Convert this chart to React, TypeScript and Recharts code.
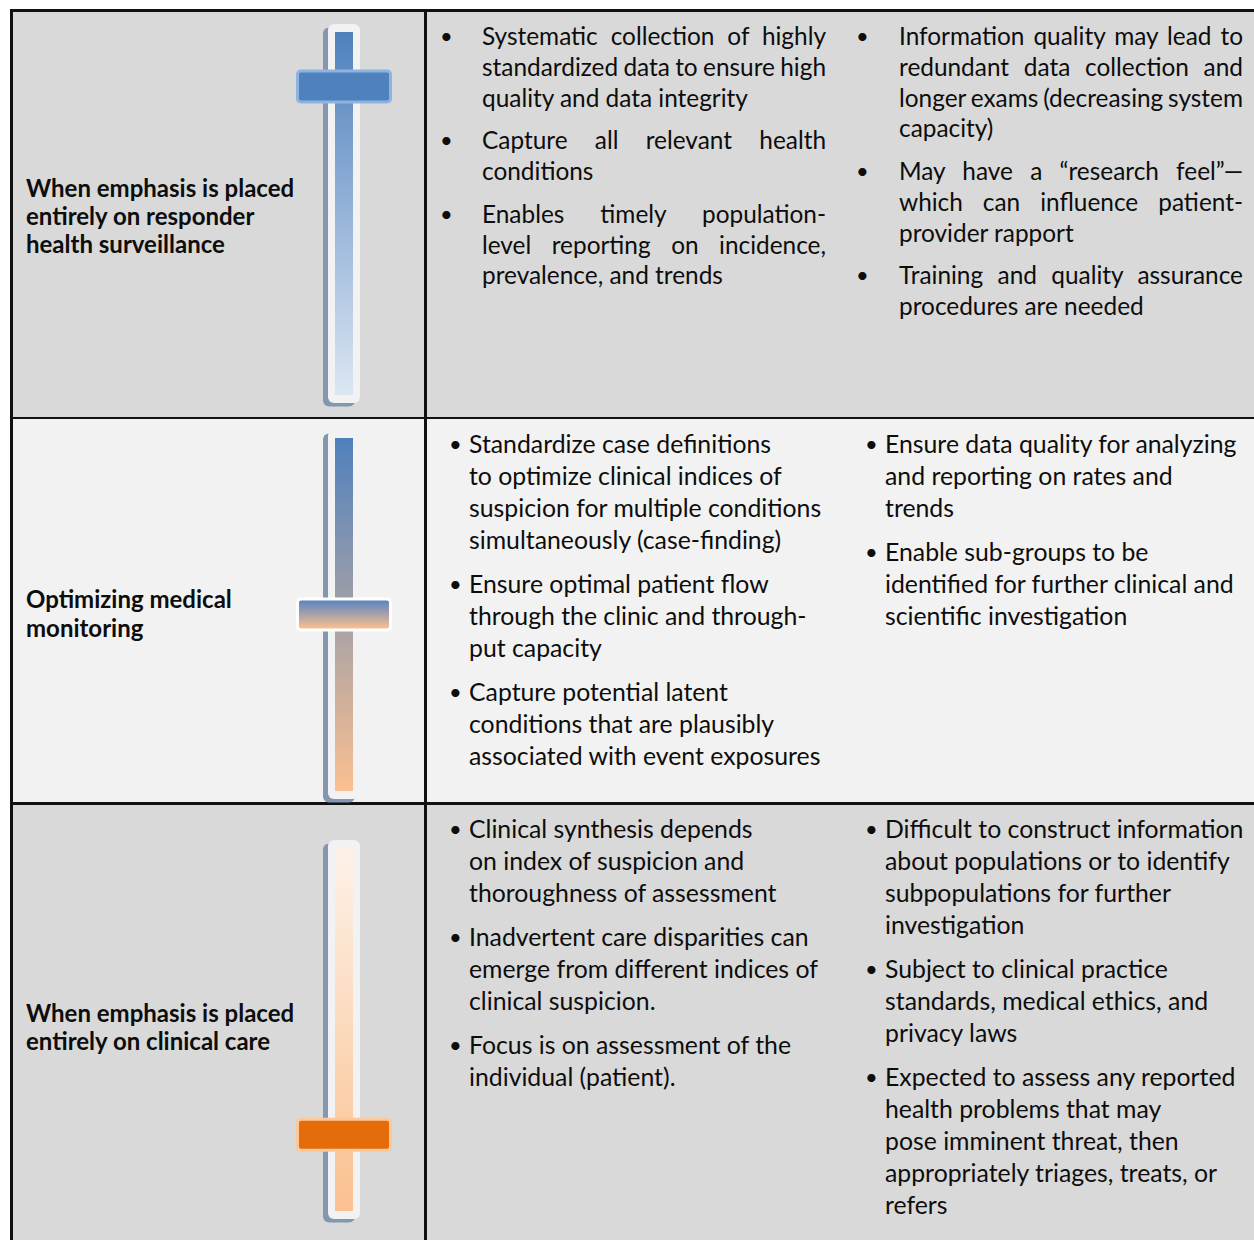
import React from "react";
import { ComposedChart, Bar, Scatter, XAxis, YAxis } from "recharts";

// slider handle position on each track (0 = bottom, 100 = top)
const sliderPositions = [85, 50, 21];

const rowLabels = [
    ["When emphasis is placed", "entirely on responder", "health surveillance"],
    ["Optimizing medical", "monitoring"],
    ["When emphasis is placed", "entirely on clinical care"],
];

// benefits column, one array of lines per bullet
const benefits = [
    [
        ["Systematic collection of highly", "standardized data to ensure high", "quality and data integrity"],
        ["Capture all relevant health", "conditions"],
        ["Enables timely population-", "level reporting on incidence,", "prevalence, and trends"],
    ],
    [
        ["Standardize case definitions", "to optimize clinical indices of", "suspicion for multiple conditions", "simultaneously (case-finding)"],
        ["Ensure optimal patient flow", "through the clinic and through-", "put capacity"],
        ["Capture potential latent", "conditions that are plausibly", "associated with event exposures"],
    ],
    [
        ["Clinical synthesis depends", "on index of suspicion and", "thoroughness of assessment"],
        ["Inadvertent care disparities can", "emerge from different indices of", "clinical suspicion."],
        ["Focus is on assessment of the", "individual (patient)."],
    ],
];

// trade-offs column
const tradeoffs = [
    [
        ["Information quality may lead to", "redundant data collection and", "longer exams (decreasing system", "capacity)"],
        ["May have a \u201cresearch feel\u201d\u2014", "which can influence patient-", "provider rapport"],
        ["Training and quality assurance", "procedures are needed"],
    ],
    [
        ["Ensure data quality for analyzing", "and reporting on rates and", "trends"],
        ["Enable sub-groups to be", "identified for further clinical and", "scientific investigation"],
    ],
    [
        ["Difficult to construct information", "about populations or to identify", "subpopulations for further", "investigation"],
        ["Subject to clinical practice", "standards, medical ethics, and", "privacy laws"],
        ["Expected to assess any reported", "health problems that may", "pose imminent threat, then", "appropriately triages, treats, or", "refers"],
    ],
];

const FONT = "Lato, 'Open Sans', sans-serif";

const rows = [
    { top: 10, bottom: 417, bg: "#d9d9d9" },
    { top: 417, bottom: 802, bg: "#f2f2f2" },
    { top: 802, bottom: 1240, bg: "#d9d9d9" },
];

const sliderThemes = [
    {
        track: ["#4f81bd", "#dce6f2"],
        handleFill: ["#4f81bd", "#4f81bd"],
        handleBorder: "#8db3e2",
        top: 22,
        height: 387,
    },
    {
        track: ["#4f81bd", "#fac090"],
        handleFill: ["#5a84c0", "#fac090"],
        handleBorder: "#ffffff",
        top: 428,
        height: 377,
    },
    {
        track: ["#fdf2e8", "#fac090"],
        handleFill: ["#e46c0a", "#e46c0a"],
        handleBorder: "#fbc89c",
        top: 838,
        height: 387,
    },
];

const textBlocks = [
    { col2Top: 21, col3Top: 21, lh: 30.75 },
    { col2Top: 428, col3Top: 428, lh: 32 },
    { col2Top: 813, col3Top: 813, lh: 32 },
];

function Slider({ idx }: { idx: number }) {
    const theme = sliderThemes[idx];
    const data = [{ name: "slider", track: 100, pos: sliderPositions[idx] }];
    const trackId = `track${idx}`;
    const handleId = `handle${idx}`;

    const trackShape = (props: any) => {
        const { x, y, width, height } = props;
        const ox = x - 7;
        const oy = y - 8;
        const ow = width + 14;
        const oh = height + 16;
        return (
            <g>
                <rect x={ox - 5} y={oy + 3.5} width={ow} height={oh} rx={6} fill="#8496b0" />
                <rect x={ox} y={oy} width={ow} height={oh} rx={6} fill="#f2f2f2" />
                <rect x={x} y={y} width={width} height={height} fill={`url(#${trackId})`} />
            </g>
        );
    };

    const handleShape = (props: any) => {
        const { cx, cy } = props;
        return (
            <g>
                <rect x={cx - 48} y={cy - 17} width={96} height={34} rx={5} fill={theme.handleBorder} />
                <rect x={cx - 45} y={cy - 14} width={90} height={28} rx={2} fill={`url(#${handleId})`} />
            </g>
        );
    };

    return (
        <div style={{ position: "absolute", left: 294, top: theme.top }}>
            <ComposedChart
                width={100}
                height={theme.height}
                data={data}
                margin={{ top: 10, right: 0, bottom: 14, left: 0 }}
            >
                <defs>
                    <linearGradient id={trackId} x1="0" y1="0" x2="0" y2="1">
                        <stop offset="0%" stopColor={theme.track[0]} />
                        <stop offset="100%" stopColor={theme.track[1]} />
                    </linearGradient>
                    <linearGradient id={handleId} x1="0" y1="0" x2="0" y2="1">
                        <stop offset="0%" stopColor={theme.handleFill[0]} />
                        <stop offset="100%" stopColor={theme.handleFill[1]} />
                    </linearGradient>
                </defs>
                <XAxis dataKey="name" type="category" hide />
                <YAxis domain={[0, 100]} hide />
                <Bar dataKey="track" barSize={18} shape={trackShape} isAnimationActive={false} />
                <Scatter dataKey="pos" shape={handleShape} isAnimationActive={false} />
            </ComposedChart>
        </div>
    );
}

function BulletList({
    items,
    left,
    top,
    lh,
    bulletX,
    justify,
    width,
}: {
    items: string[][];
    left: number;
    top: number;
    lh: number;
    bulletX: number;
    justify: boolean;
    width: number;
}) {
    return (
        <div style={{ position: "absolute", left, top, width }}>
            {items.map((lines, i) => (
                <div key={i} style={{ position: "relative", marginBottom: 12 }}>
                    <span
                        style={{
                            position: "absolute",
                            left: bulletX - left - 6,
                            top: 0,
                            lineHeight: `${lh}px`,
                            fontSize: 22,
                        }}
                    >
                        {"\u2022"}
                    </span>
                    {lines.map((line, j) => {
                        const spread = justify && j < lines.length - 1;
                        return (
                            <div
                                key={j}
                                style={{
                                    height: lh,
                                    lineHeight: `${lh}px`,
                                    whiteSpace: "nowrap",
                                    wordSpacing: spread ? -2 : 0,
                                    textAlign: spread ? "justify" : "left",
                                    textAlignLast: spread ? "justify" : "left",
                                }}
                            >
                                {line}
                            </div>
                        );
                    })}
                </div>
            ))}
        </div>
    );
}

export default function App() {
    const labelTops = [173.75, 583.5, 998.75];
    return (
        <div
            style={{
                position: "absolute",
                left: 0,
                top: 0,
                width: 1254,
                height: 1240,
                overflow: "hidden",
                background: "#ffffff",
                fontFamily: FONT,
                color: "#0d0d0d",
            }}
        >
            {rows.map((r, i) => (
                <div
                    key={i}
                    style={{
                        position: "absolute",
                        left: 10,
                        top: r.top,
                        width: 1244,
                        height: r.bottom - r.top,
                        background: r.bg,
                    }}
                />
            ))}
            {/* grid lines */}
            <div style={{ position: "absolute", left: 10, top: 9, width: 1244, height: 2.5, background: "#111" }} />
            <div style={{ position: "absolute", left: 10, top: 416.5, width: 1244, height: 2.5, background: "#111" }} />
            <div style={{ position: "absolute", left: 10, top: 802, width: 1244, height: 2.5, background: "#111" }} />
            <div style={{ position: "absolute", left: 10, top: 9, width: 2.5, height: 1231, background: "#111" }} />
            <div style={{ position: "absolute", left: 424, top: 9, width: 2.5, height: 1231, background: "#111" }} />

            {rowLabels.map((lines, i) => (
                <div
                    key={i}
                    style={{
                        position: "absolute",
                        left: 26,
                        top: labelTops[i],
                        fontWeight: 700,
                        fontSize: 24,
                        lineHeight: i === 1 ? "29px" : "28px",
                        whiteSpace: "nowrap",
                    }}
                >
                    {lines.map((l, j) => (
                        <div key={j}>{l}</div>
                    ))}
                </div>
            ))}

            {sliderPositions.map((_, i) => (
                <Slider key={i} idx={i} />
            ))}

            <div style={{ fontSize: 24.4 }}>
                <BulletList items={benefits[0]} left={482} top={textBlocks[0].col2Top} lh={textBlocks[0].lh} bulletX={446} justify width={344} />
                <BulletList items={tradeoffs[0]} left={899} top={textBlocks[0].col3Top} lh={textBlocks[0].lh} bulletX={862} justify width={344} />
            </div>
            <div style={{ fontSize: 24.8 }}>
                <BulletList items={benefits[1]} left={469} top={textBlocks[1].col2Top} lh={textBlocks[1].lh} bulletX={455} justify={false} width={380} />
                <BulletList items={tradeoffs[1]} left={885} top={textBlocks[1].col3Top} lh={textBlocks[1].lh} bulletX={871} justify={false} width={380} />
                <BulletList items={benefits[2]} left={469} top={textBlocks[2].col2Top} lh={textBlocks[2].lh} bulletX={455} justify={false} width={380} />
                <BulletList items={tradeoffs[2]} left={885} top={textBlocks[2].col3Top} lh={textBlocks[2].lh} bulletX={871} justify={false} width={380} />
            </div>
        </div>
    );
}
